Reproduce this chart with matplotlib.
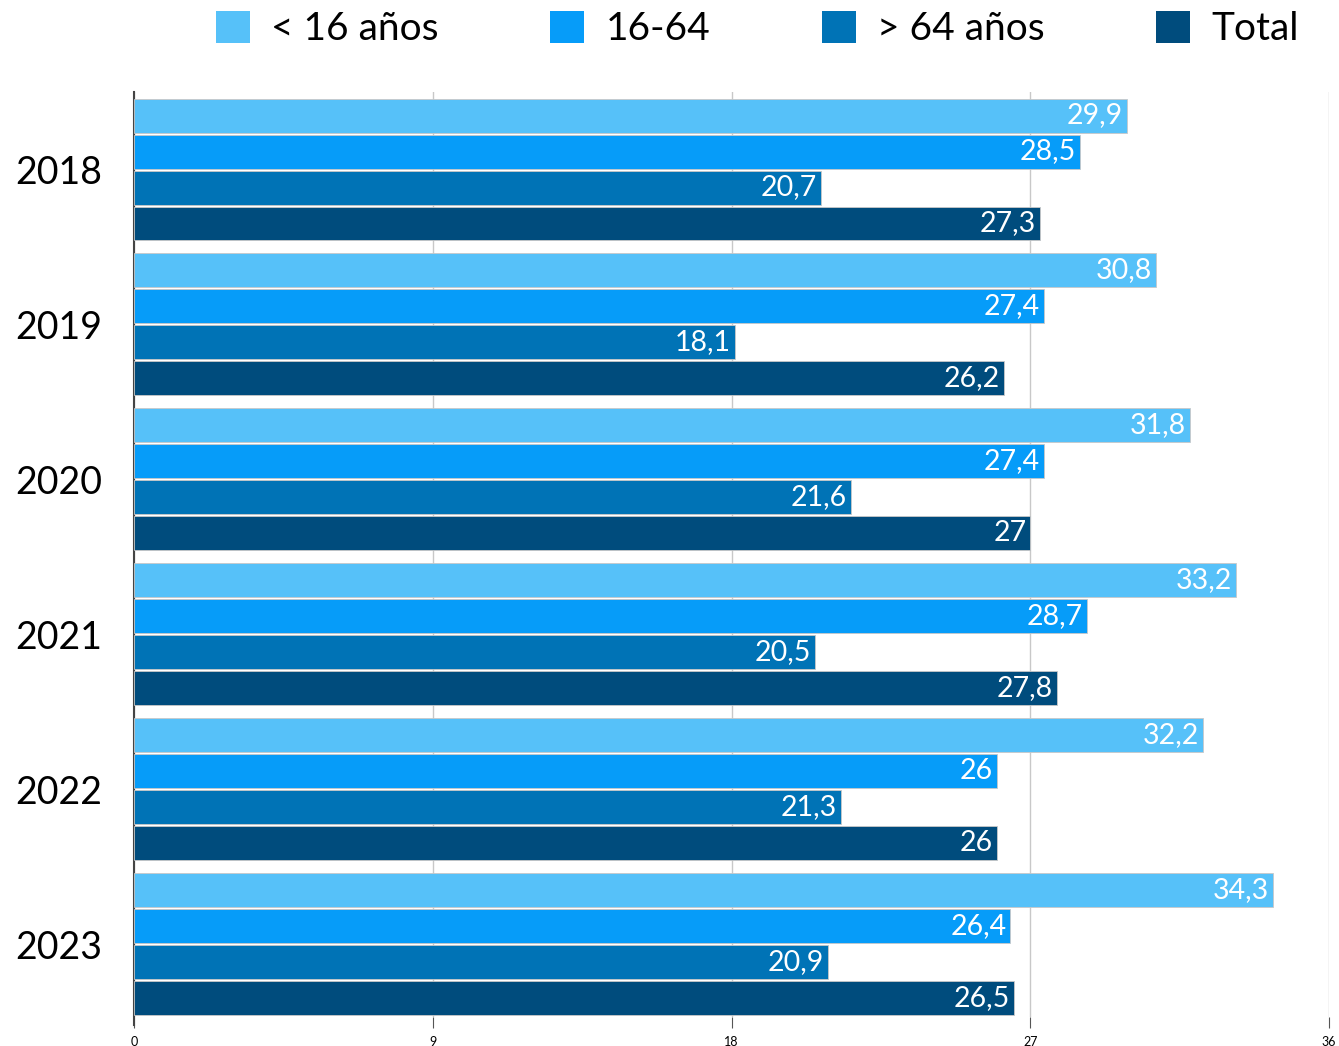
import numpy as np
import matplotlib.pyplot as plt
from matplotlib.patches import Patch

plt.rcParams['font.family'] = ['Lato', 'DejaVu Sans']

# Data
years = ['2018', '2019', '2020', '2021', '2022', '2023']
series = ['< 16 años', '16-64', '> 64 años', 'Total']
under_16 = [29.9, 30.8, 31.8, 33.2, 32.2, 34.3]
age_16_64 = [28.5, 27.4, 27.4, 28.7, 26.0, 26.4]
over_64 = [20.7, 18.1, 21.6, 20.5, 21.3, 20.9]
total = [27.3, 26.2, 27.0, 27.8, 26.0, 26.5]
colors = ['#56C1F9', '#069CF9', '#0073B6', '#004C7D']

values = [under_16, age_16_64, over_64, total]

fig = plt.figure(figsize=(13.39, 10.46), dpi=100)
ax = fig.add_axes([0.1001, 0.0277, 0.8925, 0.8843])

pitch = 36 / 155
height = 34 / 155
centers = np.arange(len(years))

for i, (vals, col) in enumerate(zip(values, colors)):
    y = centers + (i - 1.5) * pitch
    bars = ax.barh(y, vals, height=height, color=col, edgecolor='#c8c8c8',
                   linewidth=0.6, zorder=3)
    for b, v in zip(bars, vals):
        label = f'{v:g}'.replace('.', ',')
        ax.text(b.get_width() - 0.12, b.get_y() + b.get_height() / 2, label,
                ha='right', va='center', color='white', fontsize=20.5, zorder=4)

ax.set_xlim(0, 36)
ax.set_ylim(5.47, -0.50)
ax.set_xticks([0, 9, 18, 27, 36])
ax.tick_params(axis='x', labelsize=9, length=8, color='#555555', pad=6)
ax.set_yticks(centers)
ax.set_yticklabels(years, fontsize=27)
ax.tick_params(axis='y', length=0, pad=23)
ax.grid(axis='x', color='#c8c8c8', linewidth=1, zorder=0)

for s in ['top', 'right', 'bottom']:
    ax.spines[s].set_visible(False)
ax.spines['left'].set_color('#444444')
ax.spines['left'].set_linewidth(1.5)
ax.spines['left'].set_bounds(5.52, -0.50)

handles = [Patch(facecolor=c, edgecolor='none') for c in colors]
fig.legend(handles, series, loc='center', bbox_to_anchor=(0.5657, 0.972),
           ncol=4, frameon=False, fontsize=28, handlelength=0.87,
           handleheight=0.87, handletextpad=0.55, columnspacing=2.87,
           borderpad=0, borderaxespad=0)

fig.savefig('out.png', dpi=100)
